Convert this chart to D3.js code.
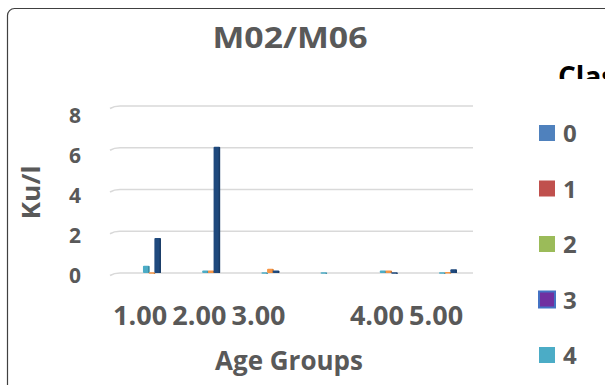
<!DOCTYPE html>
<html><head><meta charset="utf-8">
<script src="https://cdn.jsdelivr.net/npm/d3@7"></script>
<style>
html,body{margin:0;padding:0;background:#fff;}
text{font-family:"Open Sans",Lato,sans-serif;font-weight:700;}
</style></head>
<body>
<svg id="chart" width="605" height="385"></svg>
<script>
// ---- data ----
const categories = ["1.00","2.00","3.00","","4.00","5.00"];
const seriesNames = ["0","1","2","3","4","5","6"];
const seriesColors = ["#4F81BD","#C0504D","#9BBB59","#7030A0","#4BACC6","#F79646","#1F497D"];
const s0 = [0,0,0,0,0,0];
const s1 = [0,0,0,0,0,0];
const s2 = [0,0,0,0,0,0];
const s3 = [0,0,0,0,0,0];
const s4 = [0.35,0.12,0.03,0.03,0.12,0.03];
const s5 = [0.03,0.12,0.20,0,0.12,0.05];
const s6 = [1.68,6.05,0.12,0,0.03,0.18];
const seriesValues = [s0,s1,s2,s3,s4,s5,s6];
const yTicks = [0,2,4,6,8];
const legendShown = ["0","1","2","3","4"];

const svg = d3.select("#chart");
const grey = "#595959";
const FONT = "'Open Sans',Lato,sans-serif";

// frame
svg.append("rect").attr("x",7.5).attr("y",8.5).attr("width",640).attr("height",420)
  .attr("rx",7).attr("fill","#fff").attr("stroke","#404040").attr("stroke-width",1.2);

// scales
const x = d3.scaleBand().domain(d3.range(categories.length)).range([110.5, 465.7]).padding(0);
const xi = d3.scaleBand().domain(d3.range(seriesNames.length)).range([-20, 20]).padding(0);
const y = d3.scaleLinear().domain([0,8]).range([273,106]);
const yFront = d3.scaleLinear().domain([0,8]).range([276,116]);

// gridlines
svg.append("g").selectAll("path").data(yTicks).join("path")
  .attr("d", v => `M110,${y(v)+2.5} Q114,${y(v)} 120,${y(v)} L473,${y(v)}`)
  .attr("fill","none").attr("stroke","#d9d9d9").attr("stroke-width",1.6);

// y axis labels
const yAxis = svg.append("g").attr("transform","translate(81,0)")
  .call(d3.axisLeft(yFront).tickValues(yTicks).tickSize(0).tickPadding(0).tickFormat(d3.format("d")));
yAxis.select(".domain").remove();
yAxis.selectAll("text").attr("fill",grey).style("font-size","21px")
  .style("font-family",FONT).style("font-weight","700");

// bars
const flat = [];
seriesValues.forEach((arr,si)=>arr.forEach((v,ci)=>{ if(v>0) flat.push({si,ci,v}); }));
const bw = xi.bandwidth();
const barG = svg.append("g");
flat.sort((a,b)=>a.si-b.si);
flat.forEach(d=>{
  const cx = x(d.ci) + x.bandwidth()/2 + xi(d.si);
  const top = y(d.v), h = Math.max(y(0)-top, 1.5);
  const c = d3.color(seriesColors[d.si]);
  barG.append("rect").attr("x",cx).attr("y",top).attr("width",bw+0.8).attr("height",h)
    .attr("rx",1).attr("fill",c);
  barG.append("rect").attr("x",cx+bw-0.6).attr("y",top+0.5).attr("width",1.4).attr("height",Math.max(h-0.5,1))
    .attr("fill",c.darker(0.6));
});

// x axis labels
const xAxis = svg.append("g").attr("transform","translate(0,306)")
  .call(d3.axisBottom(x).tickSize(0).tickPadding(0).tickFormat(i=>categories[i]));
xAxis.select(".domain").remove();
xAxis.selectAll("text").attr("fill",grey).attr("dy","0.71em")
  .style("font-size","27px").style("font-family",FONT).style("font-weight","700");

// title
svg.append("text").attr("x",290).attr("y",48).attr("text-anchor","middle")
  .attr("fill",grey).style("font-size","29px").attr("textLength",155).attr("lengthAdjust","spacingAndGlyphs")
  .text("M02/M06");

// axis titles
svg.append("text").attr("x",289).attr("y",370).attr("text-anchor","middle")
  .attr("fill",grey).style("font-size","26px").text("Age Groups");
svg.append("text").attr("transform","translate(40,192.5) rotate(-90)").attr("text-anchor","middle")
  .attr("fill",grey).style("font-size","25px").attr("textLength",54).attr("lengthAdjust","spacingAndGlyphs")
  .text("Ku/l");

// legend title (clipped)
svg.append("clipPath").attr("id","lt").append("rect").attr("x",500).attr("y",40).attr("width",105).attr("height",39);
svg.append("text").attr("x",558).attr("y",87).attr("fill","#000").style("font-size","28px")
  .attr("clip-path","url(#lt)").text("Class");

// legend
const lg = svg.append("g").selectAll("g").data(legendShown).join("g")
  .attr("transform",(d,i)=>`translate(539,${133 + i*55.5})`);
lg.append("rect").attr("x",0).attr("y",-8).attr("width",16).attr("height",16)
  .attr("fill",d=>seriesColors[+d])
  .attr("stroke",d=>d==="3"?"#4472C4":"none").attr("stroke-width",d=>d==="3"?2:0);
lg.append("text").attr("x",24).attr("y",9).attr("fill",grey).style("font-size","24px").text(d=>d);
</script>
</body></html>
